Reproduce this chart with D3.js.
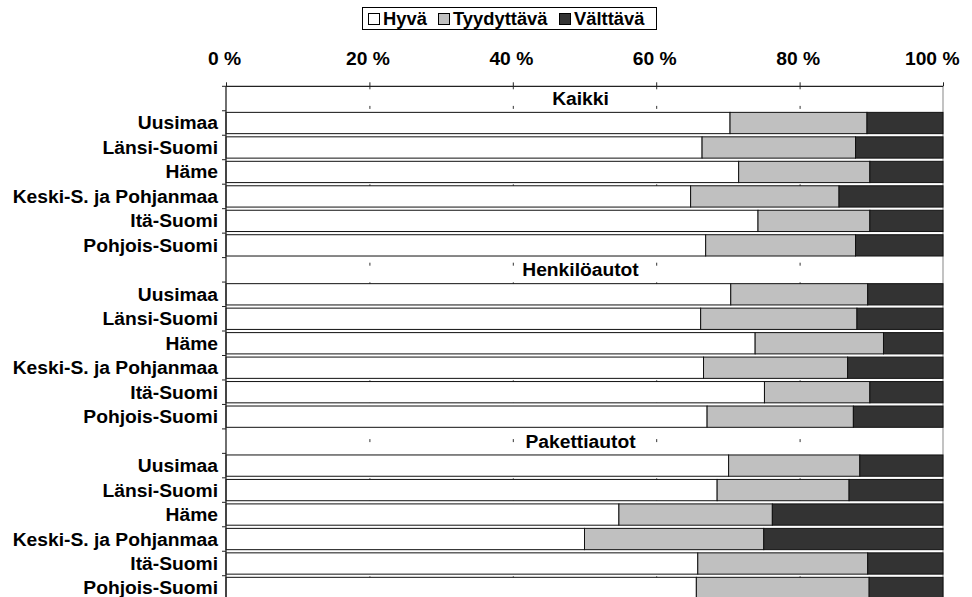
<!DOCTYPE html>
<html>
<head>
<meta charset="utf-8">
<script src="https://cdn.jsdelivr.net/npm/d3@7"></script>
<style>
  html, body { margin: 0; padding: 0; background: #fff; }
  svg { display: block; font-family: "Liberation Sans", Arial, sans-serif; font-weight: bold; }
</style>
</head>
<body>
<svg id="chart" width="972" height="597"></svg>
<script>
// Vehicle condition shares (%) by region, grouped by vehicle type
const groups = ["Kaikki", "Henkilöautot", "Pakettiautot"];
const regions = ["Uusimaa", "Länsi-Suomi", "Häme", "Keski-S. ja Pohjanmaa", "Itä-Suomi", "Pohjois-Suomi"];
const seriesNames = ["Hyvä", "Tyydyttävä", "Välttävä"];
const seriesColors = ["#ffffff", "#c0c0c0", "#333333"];
const xTicks = [0, 20, 40, 60, 80, 100];

// One value per group × region, in the order of groups then regions
const hyva = [
  70.3, 66.4, 71.5, 64.8, 74.2, 66.9,
  70.4, 66.2, 73.8, 66.6, 75.1, 67.1,
  70.1, 68.5, 54.8, 50.0, 65.8, 65.6
];
const tyydyttava = [
  19.1, 21.4, 18.3, 20.7, 15.6, 20.9,
  19.1, 21.8, 17.9, 20.1, 14.7, 20.4,
  18.3, 18.4, 21.4, 25.0, 23.7, 24.1
];
const valttava = [
  10.6, 12.2, 10.2, 14.5, 10.2, 12.2,
  10.5, 12.0, 8.3, 13.3, 10.2, 12.5,
  11.6, 13.1, 23.8, 25.0, 10.5, 10.3
];

// Rows: a heading row for each group followed by its regions
const rows = [];
groups.forEach((g, gi) => {
  rows.push({ key: "h" + gi, label: g, heading: true });
  regions.forEach((r, ri) => {
    const k = gi * regions.length + ri;
    rows.push({ key: "r" + k, label: r, heading: false, values: [hyva[k], tyydyttava[k], valttava[k]] });
  });
});

const svg = d3.select("#chart");
const plotTop = 86.3, plotBottom = 600.2;
const fontSize = 18, stretch = 1.07;

const x = d3.scaleLinear().domain([0, 100]).range([226, 943]);
const y = d3.scaleBand()
  .domain(rows.map(d => d.key))
  .range([plotTop, plotBottom])
  .paddingInner(0.13)
  .paddingOuter(0.065);

// Dashed vertical gridlines behind the bars
const grid = svg.append("g")
  .attr("transform", `translate(0,${plotTop})`)
  .call(d3.axisTop(x).tickValues(xTicks.slice(1, -1)).tickSize(-(plotBottom - plotTop)).tickFormat(""));
grid.select(".domain").remove();
grid.selectAll("line").attr("stroke", "#333").attr("stroke-width", 1).attr("stroke-dasharray", "3,16.6");

// Right border of the plot area
svg.append("line")
  .attr("x1", x(100)).attr("x2", x(100))
  .attr("y1", plotTop).attr("y2", plotBottom)
  .attr("stroke", "#9a9a9a").attr("stroke-width", 1.2);

// Stacked bars
const stackRows = rows.filter(d => !d.heading);
const barG = svg.append("g");
stackRows.forEach(row => {
  let acc = 0;
  row.values.forEach((v, si) => {
    barG.append("rect")
      .attr("x", x(acc))
      .attr("y", y(row.key))
      .attr("width", x(acc + v) - x(acc))
      .attr("height", y.bandwidth())
      .attr("fill", seriesColors[si])
      .attr("stroke", "#111")
      .attr("stroke-width", 1);
    acc += v;
  });
});

// Group headings inside the plot
svg.append("g").selectAll("text")
  .data(rows.filter(d => d.heading))
  .join("text")
  .attr("transform", d => `translate(${(x(0) + x(100)) / 2 - 4},${y(d.key) + y.bandwidth() / 2}) scale(${stretch},1)`)
  .attr("dy", "0.36em")
  .attr("text-anchor", "middle")
  .attr("font-size", fontSize)
  .attr("fill", "#000")
  .text(d => d.label);

// Category axis on the left
const leftAxis = svg.append("g").attr("transform", `translate(${x(0)},0)`);
leftAxis.append("line")
  .attr("x1", 0).attr("x2", 0).attr("y1", plotTop).attr("y2", plotBottom)
  .attr("stroke", "#222").attr("stroke-width", 1.3);
leftAxis.selectAll("line.tick")
  .data(d3.range(rows.length + 1))
  .join("line")
  .attr("class", "tick")
  .attr("x1", -4).attr("x2", 0)
  .attr("y1", i => plotTop + i * y.step())
  .attr("y2", i => plotTop + i * y.step())
  .attr("stroke", "#222").attr("stroke-width", 1);
leftAxis.selectAll("text")
  .data(rows.filter(d => !d.heading))
  .join("text")
  .attr("transform", d => `translate(-8,${y(d.key) + y.bandwidth() / 2}) scale(${stretch},1)`)
  .attr("dy", "0.36em")
  .attr("text-anchor", "end")
  .attr("font-size", fontSize)
  .attr("fill", "#000")
  .text(d => d.label);

// Value axis on top
const topAxis = svg.append("g")
  .attr("transform", `translate(0,${plotTop})`)
  .call(d3.axisTop(x).tickValues(xTicks).tickSize(4).tickPadding(17).tickFormat(d => d + " %"));
topAxis.select(".domain").attr("stroke", "#222").attr("stroke-width", 1.3).attr("d", `M${x(0)},0H${x(100)}`);
topAxis.selectAll(".tick line").attr("stroke", "#222");
topAxis.selectAll(".tick text")
  .attr("font-size", fontSize)
  .attr("font-family", "Liberation Sans, Arial, sans-serif")
  .attr("font-weight", "bold")
  .attr("fill", "#000")
  .attr("text-anchor", d => d === 100 ? "end" : "middle")
  .attr("transform", d => d === 100 ? `translate(16,0) scale(${stretch},1)` : `translate(-2,0) scale(${stretch},1)`);

// Legend
const legend = svg.append("g");
legend.append("rect")
  .attr("x", 362.5).attr("y", 7.5).attr("width", 294).attr("height", 22)
  .attr("fill", "#fff").attr("stroke", "#000").attr("stroke-width", 1);
const legendX = [368, 438, 559];
seriesNames.forEach((name, i) => {
  legend.append("rect")
    .attr("x", legendX[i] + 0.5).attr("y", 13.5).attr("width", 11).attr("height", 11)
    .attr("fill", seriesColors[i]).attr("stroke", "#000").attr("stroke-width", 1);
  legend.append("text")
    .attr("transform", `translate(${legendX[i] + 15},19) scale(1.02,1)`)
    .attr("dy", "0.36em")
    .attr("font-size", fontSize)
    .attr("fill", "#000")
    .text(name);
});
</script>
</body>
</html>
